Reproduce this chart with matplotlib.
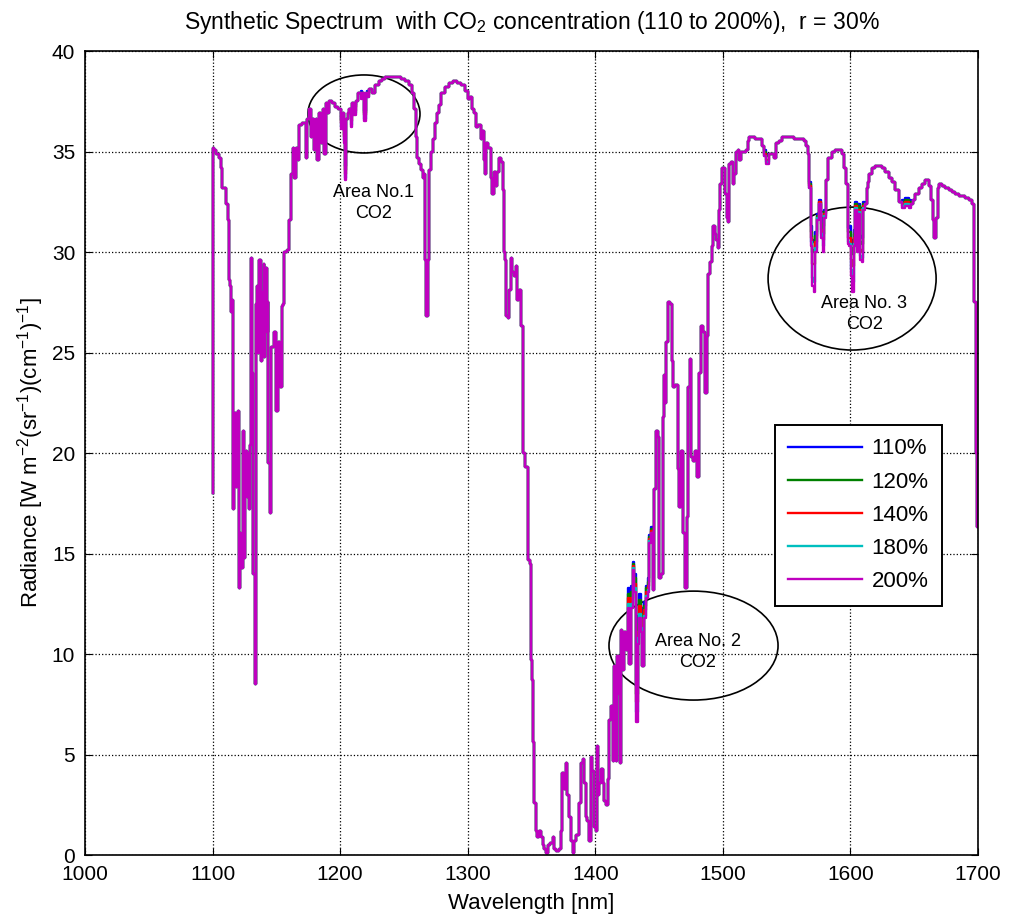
import numpy as np
import matplotlib
matplotlib.use("Agg")
import matplotlib.pyplot as plt
from matplotlib.patches import Ellipse

plt.rcParams['font.family'] = ['Liberation Sans', 'DejaVu Sans']
plt.rcParams['mathtext.fontset'] = 'custom'
plt.rcParams['mathtext.rm'] = 'Liberation Sans'
plt.rcParams['mathtext.it'] = 'Liberation Sans:italic'

# Spectrum (200% CO2 curve, which is drawn on top)
wavelength = [
    1100.0, 1100.3, 1102.0, 1104.0, 1105.8, 1107.0, 1108.2, 1109.7, 1111.3, 1112.2,
    1112.9, 1114.0, 1115.2, 1115.6, 1116.0, 1116.8, 1117.6, 1118.4, 1119.2, 1120.7,
    1121.5, 1122.3, 1123.1, 1123.9, 1125.4, 1126.2, 1127.0, 1127.8, 1128.6, 1129.3,
    1130.1, 1130.9, 1131.7, 1132.5, 1133.3, 1134.0, 1134.8, 1135.6, 1136.4, 1137.2,
    1138.0, 1138.8, 1139.6, 1140.3, 1141.1, 1141.9, 1142.7, 1143.5, 1144.2, 1145.8,
    1146.6, 1149.0, 1150.5, 1152.1, 1152.9, 1154.4, 1155.2, 1156.0, 1156.8, 1159.9,
    1160.7, 1162.3, 1163.1, 1164.6, 1166.2, 1167.0, 1168.5, 1172.5, 1174.0, 1174.8,
    1176.4, 1177.9, 1178.7, 1180.3, 1181.9, 1182.6, 1184.2, 1185.8, 1186.6, 1188.1,
    1189.7, 1190.5, 1192.1, 1194.4, 1197.5, 1199.9, 1201.5, 1202.3, 1203.8, 1204.6,
    1205.4, 1206.2, 1207.7, 1209.3, 1210.1, 1211.7, 1213.2, 1215.6, 1217.1, 1217.9,
    1219.5, 1221.1, 1221.8, 1223.4, 1225.8, 1228.9, 1231.3, 1233.6, 1236.7, 1241.4,
    1246.9, 1249.3, 1252.4, 1254.8, 1257.1, 1258.7, 1260.3, 1261.0, 1262.6, 1264.2,
    1265.0, 1266.5, 1267.3, 1268.1, 1268.9, 1269.7, 1272.0, 1273.6, 1275.2, 1276.7,
    1278.3, 1280.6, 1283.8, 1286.9, 1290.1, 1293.2, 1296.3, 1299.5, 1301.0, 1302.6,
    1304.1, 1305.7, 1307.3, 1309.6, 1311.2, 1312.0, 1313.6, 1314.3, 1315.1, 1317.5,
    1319.0, 1319.8, 1321.4, 1323.0, 1323.7, 1325.3, 1326.9, 1327.7, 1328.5, 1329.2,
    1330.8, 1331.6, 1333.2, 1334.7, 1335.5, 1337.1, 1338.6, 1339.4, 1341.0, 1342.6,
    1343.4, 1344.0, 1346.5, 1347.3, 1349.6, 1350.4, 1350.8, 1351.2, 1352.8, 1354.3,
    1355.1, 1356.7, 1358.3, 1359.0, 1360.6, 1362.2, 1362.9, 1366.1, 1366.9, 1368.4,
    1370.8, 1373.1, 1373.9, 1374.7, 1376.3, 1377.8, 1378.6, 1380.2, 1381.8, 1382.5,
    1384.1, 1385.7, 1388.0, 1389.6, 1390.4, 1391.9, 1393.5, 1394.3, 1395.9, 1397.4,
    1398.2, 1399.8, 1400.6, 1401.4, 1402.2, 1403.7, 1405.3, 1406.1, 1407.6, 1409.2,
    1410.0, 1411.5, 1413.1, 1413.9, 1415.5, 1417.0, 1417.8, 1418.6, 1419.4, 1420.9,
    1421.7, 1423.3, 1424.9, 1425.7, 1427.2, 1428.8, 1429.6, 1431.1, 1432.7, 1433.5,
    1435.1, 1436.6, 1437.4, 1439.0, 1440.6, 1441.3, 1442.9, 1444.5, 1445.3, 1446.8,
    1448.4, 1449.2, 1450.7, 1452.3, 1453.1, 1453.9, 1455.4, 1456.2, 1457.8, 1459.4,
    1460.2, 1460.9, 1464.1, 1464.9, 1466.4, 1468.0, 1468.8, 1470.3, 1471.1, 1471.9,
    1473.5, 1475.0, 1475.8, 1477.4, 1479.0, 1480.5, 1482.1, 1483.7, 1485.2, 1486.8,
    1487.6, 1489.2, 1490.7, 1491.5, 1493.1, 1493.9, 1495.4, 1496.2, 1497.0, 1498.6,
    1499.4, 1500.9, 1502.5, 1503.3, 1504.8, 1505.6, 1507.2, 1508.0, 1509.5, 1511.1,
    1511.9, 1513.5, 1515.0, 1517.4, 1519.0, 1519.7, 1521.3, 1523.7, 1526.8, 1529.1,
    1531.5, 1533.1, 1534.6, 1537.0, 1539.3, 1540.9, 1542.5, 1544.8, 1547.2, 1550.3,
    1552.7, 1558.2, 1562.9, 1564.4, 1566.0, 1566.8, 1568.3, 1569.1, 1570.7, 1572.2,
    1573.0, 1574.6, 1576.2, 1577.7, 1578.5, 1580.1, 1581.6, 1584.0, 1586.4, 1589.5,
    1591.8, 1594.2, 1595.8, 1597.3, 1598.1, 1599.7, 1601.2, 1602.0, 1602.8, 1604.4,
    1605.2, 1606.7, 1608.3, 1609.1, 1610.7, 1612.2, 1613.0, 1613.8, 1615.4, 1617.7,
    1620.8, 1623.2, 1625.6, 1628.7, 1631.1, 1633.4, 1636.5, 1638.9, 1641.2, 1644.4,
    1646.7, 1648.3, 1649.1, 1652.2, 1654.6, 1656.9, 1660.1, 1662.4, 1664.0, 1664.8,
    1666.3, 1667.9, 1668.7, 1670.2, 1672.6, 1675.7, 1678.1, 1680.4, 1683.6, 1685.9,
    1688.3, 1691.4, 1693.8, 1696.1, 1697.7, 1699.0, 1699.6,
]
radiance_200 = [
    18.0, 35.2, 35.1, 34.9, 34.7, 34.2, 33.2, 33.2, 32.4, 31.6,
    28.6, 28.3, 27.0, 27.6, 22.6, 17.2, 22.0, 18.3, 20.5, 22.1,
    13.3, 16.0, 14.3, 21.1, 14.8, 19.0, 20.1, 17.8, 20.0, 17.2,
    20.4, 29.7, 24.0, 14.0, 10.5, 8.5, 27.4, 28.3, 25.0, 29.6,
    24.6, 28.0, 25.5, 29.4, 24.8, 29.2, 26.0, 27.5, 19.5, 17.0,
    25.3, 26.0, 22.1, 25.5, 23.3, 23.3, 27.3, 27.4, 30.0, 30.1,
    31.6, 33.9, 35.2, 33.7, 35.2, 34.6, 36.3, 36.4, 34.7, 36.6,
    37.1, 35.7, 36.6, 35.1, 36.6, 34.6, 36.9, 35.4, 37.1, 34.9,
    37.4, 36.9, 37.5, 37.4, 37.2, 37.1, 36.1, 36.9, 35.4, 33.6,
    36.6, 36.9, 37.1, 36.2, 37.4, 36.8, 37.5, 37.9, 37.6, 37.9,
    36.5, 37.9, 37.7, 38.1, 37.9, 38.3, 38.5, 38.6, 38.7, 38.7,
    38.7, 38.6, 38.5, 38.3, 37.9, 37.1, 35.7, 34.7, 34.4, 34.1,
    33.7, 33.9, 29.6, 26.8, 29.6, 34.1, 35.0, 35.6, 36.4, 36.9,
    37.3, 37.9, 38.2, 38.4, 38.5, 38.4, 38.3, 38.0, 37.6, 37.7,
    37.1, 36.9, 36.2, 36.3, 35.6, 36.0, 34.6, 33.9, 35.4, 35.2,
    33.7, 32.9, 34.0, 33.3, 34.0, 34.7, 34.5, 33.1, 30.0, 29.6,
    26.8, 26.7, 28.1, 29.7, 29.0, 28.8, 29.3, 27.6, 28.1, 26.3,
    26.3, 20.0, 19.3, 14.7, 14.5, 9.7, 8.7, 5.6, 2.6, 1.2,
    0.9, 1.2, 0.9, 0.5, 0.3, 0.1, 0.5, 0.6, 0.9, 0.3,
    0.2, 0.3, 1.2, 4.1, 3.3, 4.6, 3.0, 1.9, 0.7, 0.1,
    0.7, 1.0, 2.6, 4.6, 4.8, 3.6, 1.9, 1.7, 0.7, 4.9,
    4.2, 1.4, 1.2, 5.4, 3.0, 3.6, 4.3, 3.6, 2.7, 2.5,
    3.8, 6.7, 7.4, 4.7, 9.4, 4.7, 9.9, 8.0, 4.6, 11.2,
    9.2, 11.1, 10.2, 12.3, 9.5, 12.3, 14.2, 13.1, 6.6, 10.5,
    11.8, 11.1, 9.4, 11.8, 12.8, 13.1, 15.5, 16.0, 13.2, 18.2,
    21.1, 20.8, 13.8, 14.0, 21.8, 23.9, 22.5, 25.5, 27.5, 27.4,
    24.6, 23.3, 23.4, 19.2, 17.3, 20.1, 16.0, 16.0, 13.3, 16.8,
    23.3, 24.7, 19.8, 19.6, 20.1, 18.8, 24.0, 26.3, 26.0, 23.0,
    25.8, 28.9, 29.5, 30.3, 31.3, 30.9, 30.6, 30.2, 32.1, 33.4,
    34.2, 34.2, 32.9, 31.7, 31.5, 34.4, 34.5, 33.4, 33.9, 35.0,
    35.1, 34.6, 35.0, 35.0, 35.1, 35.5, 35.7, 35.7, 35.6, 35.6,
    35.3, 34.8, 34.4, 34.9, 34.9, 34.7, 35.4, 35.5, 35.7, 35.7,
    35.7, 35.6, 35.6, 35.5, 35.3, 34.9, 33.2, 30.3, 28.3, 28.0,
    30.0, 31.6, 32.4, 30.7, 30.0, 31.7, 33.6, 34.7, 35.0, 35.1,
    35.1, 34.9, 34.2, 33.4, 30.4, 30.3, 28.8, 28.0, 30.3, 32.1,
    30.0, 31.9, 29.6, 29.5, 32.1, 32.4, 33.2, 33.5, 33.9, 34.2,
    34.3, 34.3, 34.2, 34.0, 33.7, 33.5, 33.1, 32.5, 32.2, 32.3,
    32.2, 32.4, 32.6, 32.9, 33.2, 33.4, 33.6, 33.3, 32.6, 31.6,
    30.7, 31.7, 33.2, 33.4, 33.3, 33.2, 33.1, 33.0, 32.9, 32.8,
    32.8, 32.7, 32.6, 32.4, 27.5, 20.0, 16.3,
]

# Points inside the CO2 bands where the lower concentrations sit higher
co2_wavelength = [
    1201.5, 1203.8, 1204.6, 1209.3, 1211.7, 1217.1, 1219.5, 1221.8,
    1425.7, 1428.8, 1429.6, 1431.1, 1432.7, 1433.5, 1435.1, 1436.6, 1439.0, 1440.6, 1441.3, 1442.9, 1444.5,
    1533.1, 1534.6,
    1568.3, 1569.1, 1570.7, 1572.2, 1573.0, 1574.6, 1576.2, 1577.7, 1578.5, 1580.1,
    1598.1, 1599.7, 1601.2, 1602.0, 1602.8, 1604.4, 1605.2, 1606.7, 1608.3, 1609.1, 1610.7,
    1641.2, 1644.4, 1646.7,
]
radiance_110_co2 = [
    36.6, 36.0, 34.3, 36.8, 37.3, 38.0, 37.0, 38.0,
    13.3, 13.4, 14.6, 14.0, 8.4, 11.9, 13.0, 12.3, 12.6, 13.4, 13.8, 15.9, 16.3,
    35.1, 34.9,
    33.5, 31.3, 30.5, 30.6, 31.0, 31.9, 32.6, 31.7, 31.3, 32.1,
    31.2, 31.3, 30.6, 30.4, 31.1, 32.5, 31.3, 32.4, 30.8, 30.7, 32.5,
    32.6, 32.7, 32.6,
]
radiance_120_co2 = [
    36.5, 35.8, 34.1, 36.7, 37.2, 37.9, 36.9, 37.9,
    13.0, 13.1, 14.5, 13.8, 8.0, 11.5, 12.7, 12.0, 12.4, 13.3, 13.6, 15.8, 16.2,
    35.0, 34.8,
    33.4, 31.0, 30.0, 30.1, 30.8, 31.8, 32.5, 31.4, 30.9, 32.0,
    31.0, 31.0, 30.2, 29.9, 30.9, 32.4, 31.0, 32.3, 30.5, 30.4, 32.4,
    32.5, 32.6, 32.5,
]
radiance_140_co2 = [
    36.4, 35.7, 33.9, 36.5, 37.0, 37.8, 36.8, 37.8,
    12.8, 12.8, 14.4, 13.5, 7.6, 11.1, 12.4, 11.7, 12.2, 13.1, 13.4, 15.7, 16.1,
    34.9, 34.6,
    33.3, 30.7, 29.4, 29.4, 30.5, 31.7, 32.5, 31.1, 30.6, 31.9,
    30.7, 30.7, 29.6, 29.3, 30.7, 32.3, 30.5, 32.1, 30.1, 30.0, 32.3,
    32.4, 32.5, 32.4,
]
radiance_180_co2 = [
    36.2, 35.5, 33.7, 36.3, 36.9, 37.7, 36.6, 37.7,
    12.5, 12.5, 14.3, 13.3, 7.1, 10.8, 12.0, 11.3, 11.9, 12.9, 13.2, 15.6, 16.0,
    34.8, 34.5,
    33.2, 30.5, 28.7, 28.5, 30.2, 31.7, 32.4, 30.9, 30.3, 31.8,
    30.5, 30.4, 29.1, 28.5, 30.4, 32.2, 30.2, 32.0, 29.8, 29.7, 32.2,
    32.3, 32.4, 32.3,
]

labels = ['110%', '120%', '140%', '180%', '200%']
colors = [(0, 0, 1), (0, 0.5, 0), (1, 0, 0), (0, 0.75, 0.75), (0.75, 0, 0.75)]

wl = np.array(wavelength)
idx = [wavelength.index(w) for w in co2_wavelength]


def build_series(band_values):
    r = np.array(radiance_200, dtype=float)
    r[idx] = band_values
    return r


series = [build_series(radiance_110_co2), build_series(radiance_120_co2),
          build_series(radiance_140_co2), build_series(radiance_180_co2),
          np.array(radiance_200, dtype=float)]

fig = plt.figure(figsize=(10.09, 9.18), dpi=100)
ax = fig.add_axes([0.0842, 0.0686, 0.8851, 0.8758])

for r, c, lab in zip(series, colors, labels):
    ax.plot(wl, r, color=c, lw=1.7, drawstyle='steps-mid', label=lab)

ax.set_xlim(1000, 1700)
ax.set_ylim(0, 40)
ax.set_xticks(np.arange(1000, 1701, 100))
ax.set_yticks(np.arange(0, 41, 5))
ax.grid(True, color='k', linestyle=':', linewidth=0.9)
ax.tick_params(direction='in', top=True, right=True, length=5, labelsize=15, pad=7)
for s in ax.spines.values():
    s.set_linewidth(1.2)

ax.set_xlabel('Wavelength [nm]', fontsize=16, labelpad=7)
ax.set_ylabel(r'Radiance [W m$^{-2}$(sr$^{-1}$)(cm$^{-1}$)$^{-1}$]', fontsize=16, labelpad=4)
ax.set_title(r'Synthetic Spectrum  with CO$_2$ concentration (110 to 200%),  r = 30%',
             fontsize=16.5, pad=16)

# circled CO2 areas
ax.add_patch(Ellipse((1218.7, 36.87), 87.8, 3.88, fill=False, color='k', lw=1.2))
ax.add_patch(Ellipse((1477.0, 10.42), 132.5, 5.42, fill=False, color='k', lw=1.2))
ax.add_patch(Ellipse((1601.3, 28.68), 131.7, 7.11, fill=False, color='k', lw=1.2))
ax.text(1226.5, 32.45, 'Area No.1\nCO2', ha='center', va='center', fontsize=13, linespacing=1.3)
ax.text(1480.5, 10.1, 'Area No. 2\nCO2', ha='center', va='center', fontsize=13, linespacing=1.3)
ax.text(1610.7, 26.9, 'Area No. 3\nCO2', ha='center', va='center', fontsize=13, linespacing=1.3)

leg = ax.legend(loc='upper left', bbox_to_anchor=(0.7727, 0.5348), borderaxespad=0,
                fontsize=16, handlelength=3.3, handletextpad=0.45, labelspacing=0.55,
                borderpad=0.6, fancybox=False, framealpha=1, edgecolor='k')
leg.get_frame().set_linewidth(1.4)

fig.savefig('out.png', dpi=100)
